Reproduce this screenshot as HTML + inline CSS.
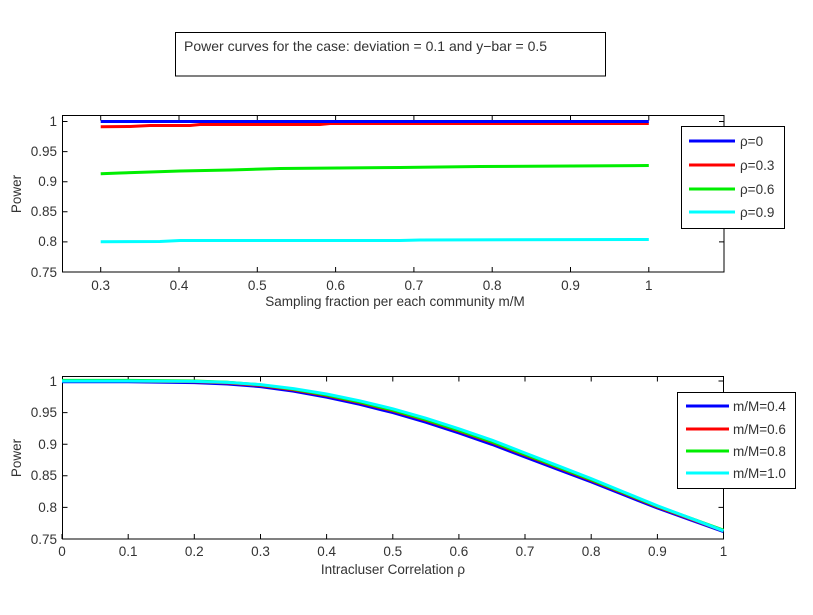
<!DOCTYPE html>
<html><head><meta charset="utf-8"><style>
body{margin:0;background:#fff;}
svg{display:block;font-family:"Liberation Sans",Arial,sans-serif;}
text{fill:#333;font-size:13.5px;}
</style></head><body>
<svg width="813" height="615" viewBox="0 0 813 615" xmlns="http://www.w3.org/2000/svg">
<rect x="0" y="0" width="813" height="615" fill="#fff"/>
<rect x="175.5" y="32.5" width="430" height="43.5" fill="#fff" stroke="#000" stroke-width="1"/>
<text x="184" y="51" style="font-size:14px">Power curves for the case: deviation = 0.1 and y−bar = 0.5</text>

<g stroke="#000" stroke-width="1" fill="none">
<rect x="62.5" y="115.5" width="661.5" height="156.5"/>
<path d="M100.7 272v-5M179 272v-5M257.3 272v-5M335.6 272v-5M413.9 272v-5M492.2 272v-5M570.5 272v-5M648.8 272v-5
M100.7 115.5v5M179 115.5v5M257.3 115.5v5M335.6 115.5v5M413.9 115.5v5M492.2 115.5v5M570.5 115.5v5M648.8 115.5v5"/>
<path d="M62.5 121.5h5M62.5 151.6h5M62.5 181.7h5M62.5 211.8h5M62.5 241.9h5M62.5 272h5
M724 121.5h-5M724 151.6h-5M724 181.7h-5M724 211.8h-5M724 241.9h-5"/>
</g>
<g text-anchor="end">
<text x="57" y="126">1</text><text x="57" y="156">0.95</text><text x="57" y="186">0.9</text>
<text x="57" y="216">0.85</text><text x="57" y="246">0.8</text><text x="57" y="277">0.75</text>
</g>
<g text-anchor="middle">
<text x="100.7" y="290">0.3</text><text x="179" y="290">0.4</text><text x="257.3" y="290">0.5</text>
<text x="335.6" y="290">0.6</text><text x="413.9" y="290">0.7</text><text x="492.2" y="290">0.8</text>
<text x="570.5" y="290">0.9</text><text x="648.8" y="290">1</text>
<text x="395" y="306">Sampling fraction per each community m/M</text>
<text transform="translate(21,194) rotate(-90)">Power</text>
</g>
<g fill="none" stroke-width="3">
<path d="M100.7 241.7L160 241.5L180 240.5L400 240.5L420 240L648.8 239.5" stroke="#00ffff"/>
<path d="M100.7 173.7L120 173L150 172L180 171L230 170L280 168.5L400 167.5L480 166.5L648.8 165.5" stroke="#00ee00"/>
<path d="M100.7 126.7L130 126.5L150 125.5L190 125.5L200 124.5L320 124.5L330 123.5L648.8 123.5" stroke="#ff0000"/>
<path d="M100.7 121.5L648.8 121.5" stroke="#0000ff"/>
</g>
<rect x="681.5" y="126.5" width="103" height="102" fill="#fff" stroke="#000"/>
<g stroke-width="3">
<path d="M689 141h46" stroke="#0000ff"/><path d="M689 165h46" stroke="#ff0000"/>
<path d="M689 189h46" stroke="#00ee00"/><path d="M689 212h46" stroke="#00ffff"/>
</g>
<text x="740" y="146">ρ=0</text><text x="740" y="170">ρ=0.3</text>
<text x="740" y="194">ρ=0.6</text><text x="740" y="217">ρ=0.9</text>

<g stroke="#000" stroke-width="1" fill="none">
<rect x="62.5" y="376.5" width="661" height="162.5"/>
<path d="M62 539v-5M128.2 539v-5M194.3 539v-5M260.5 539v-5M326.6 539v-5M392.8 539v-5M458.9 539v-5M525 539v-5M591.2 539v-5M657.4 539v-5
M128.2 376.5v5M194.3 376.5v5M260.5 376.5v5M326.6 376.5v5M392.8 376.5v5M458.9 376.5v5M525 376.5v5M591.2 376.5v5M657.4 376.5v5"/>
<path d="M62.5 381h5M62.5 412.6h5M62.5 444.2h5M62.5 475.8h5M62.5 507.4h5
M723.5 381h-5M723.5 412.6h-5M723.5 444.2h-5M723.5 475.8h-5M723.5 507.4h-5"/>
</g>
<g text-anchor="end">
<text x="57" y="386">1</text><text x="57" y="417">0.95</text><text x="57" y="449">0.9</text>
<text x="57" y="480">0.85</text><text x="57" y="512">0.8</text><text x="57" y="544">0.75</text>
</g>
<g text-anchor="middle">
<text x="62" y="556">0</text><text x="128.2" y="556">0.1</text><text x="194.3" y="556">0.2</text>
<text x="260.5" y="556">0.3</text><text x="326.6" y="556">0.4</text><text x="392.8" y="556">0.5</text>
<text x="458.9" y="556">0.6</text><text x="525" y="556">0.7</text><text x="591.2" y="556">0.8</text>
<text x="657.4" y="556">0.9</text><text x="723.5" y="556">1</text>
<text x="393" y="574">Intracluser Correlation ρ</text>
<text transform="translate(21,458) rotate(-90)">Power</text>
</g>
<g fill="none" stroke-width="3" stroke-linejoin="round">
<path transform="translate(0,0.8)" stroke="#0000ff" d="M62 381L128.2 381L194.3 381.8L227.4 383.2L260.5 385.8L293.5 390.4L326.6 396.3L359.7 403.5L392.8 411.8L425.8 421.4L458.9 432.2L492 443.6L525 456.2L558.1 468.7L591.2 481.1L624.3 494.2L657.4 507.2L690.4 519L723.5 530.8"/>
<path stroke="#ff0000" d="M62 381L128.2 381L194.3 381.6L227.4 382.9L260.5 385.4L293.5 389.8L326.6 395.5L359.7 402.5L392.8 410.7L425.8 420.2L458.9 430.9L492 442.3L525 455L558.1 467.6L591.2 480.2L624.3 493.5L657.4 506.8L690.4 518.8L723.5 530.8"/>
<path transform="translate(0,-0.6)" stroke="#00ee00" d="M62 381L128.2 381L194.3 381.6L227.4 382.9L260.5 385.4L293.5 389.8L326.6 395.5L359.7 402.5L392.8 410.7L425.8 420.2L458.9 430.9L492 442.3L525 455L558.1 467.6L591.2 480.2L624.3 493.5L657.4 506.8L690.4 518.8L723.5 530.8"/>
<path stroke="#00ffff" d="M62 381L128.2 381L194.3 381.4L227.4 382.4L260.5 384.6L293.5 388.6L326.6 394L359.7 400.8L392.8 408.8L425.8 418.2L458.9 428.8L492 440.2L525 453L558.1 465.8L591.2 478.6L624.3 492.2L657.4 505.8L690.4 518.2L723.5 530.8"/>
</g>
<rect x="677.5" y="392.5" width="118" height="96" fill="#fff" stroke="#000"/>
<g stroke-width="3">
<path d="M686 406h43" stroke="#0000ff"/><path d="M686 429h43" stroke="#ff0000"/>
<path d="M686 451h43" stroke="#00ee00"/><path d="M686 473h43" stroke="#00ffff"/>
</g>
<text x="733" y="411">m/M=0.4</text><text x="733" y="434">m/M=0.6</text>
<text x="733" y="456">m/M=0.8</text><text x="733" y="478">m/M=1.0</text>
</svg>
</body></html>
